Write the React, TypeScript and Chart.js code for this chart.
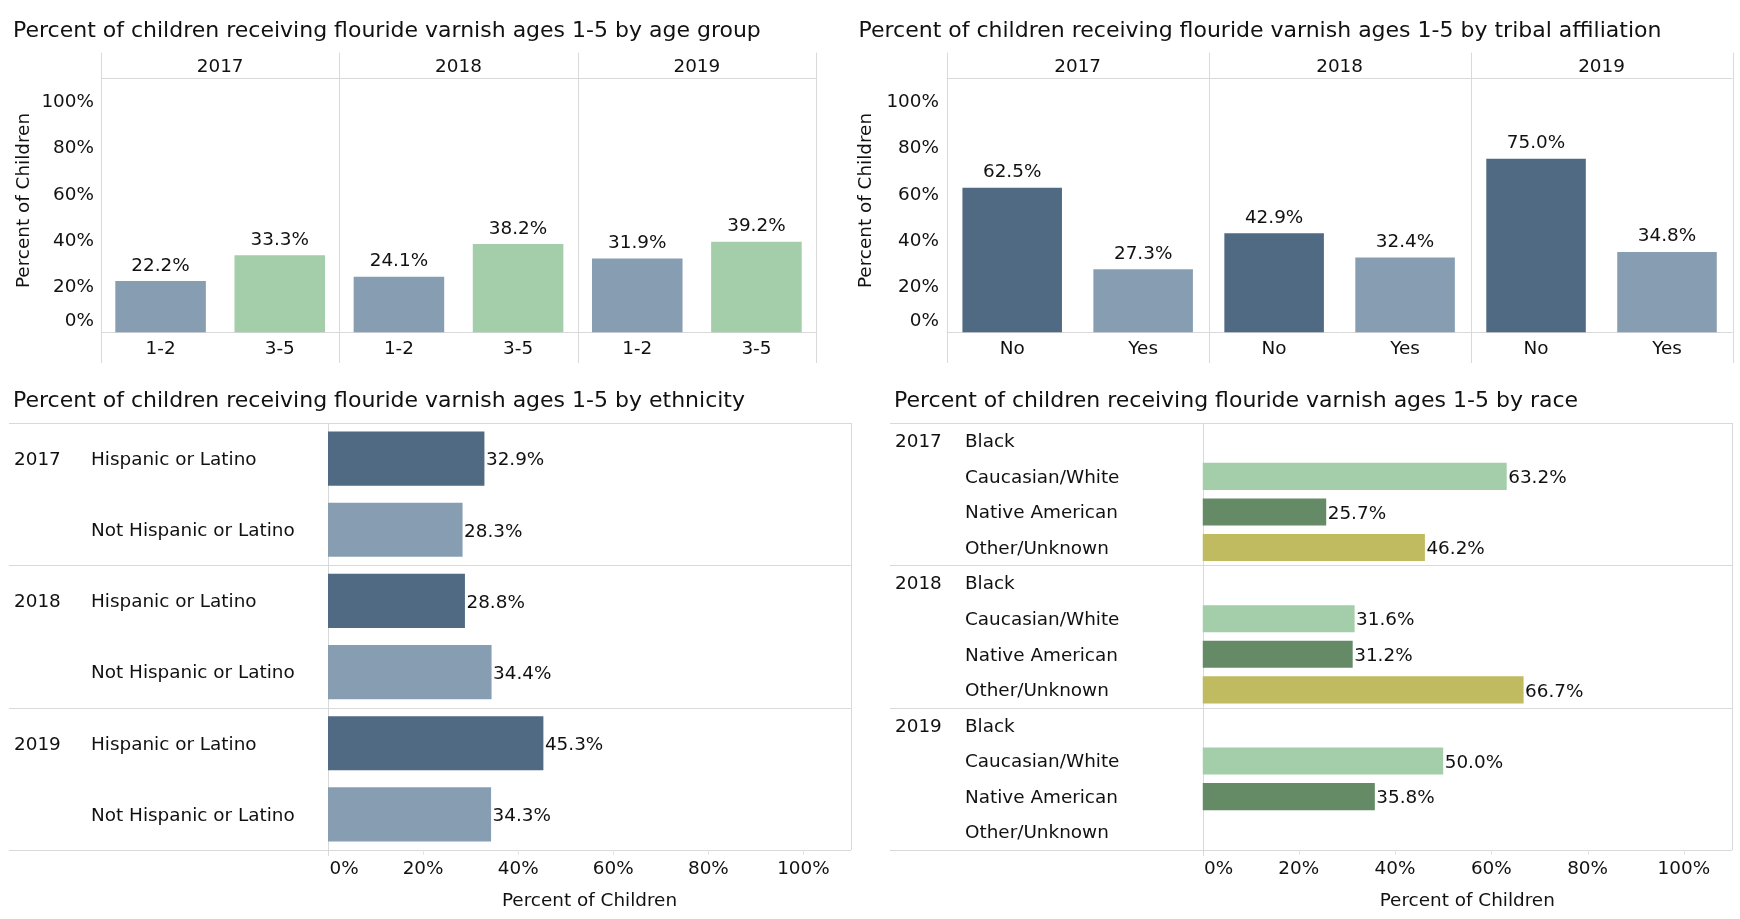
import React, { useEffect, useRef } from 'react';
import { Chart, registerables } from 'chart.js';

Chart.register(...registerables);

// ---------- data ----------
const YEARS = ['2017', '2018', '2019'];
const PCT_TICKS = [0, 20, 40, 60, 80, 100];
const AXIS_TITLE = 'Percent of Children';

const AGE_TITLE = 'Percent of children receiving flouride varnish ages 1-5 by age group';
const AGE_GROUPS = ['1-2', '3-5'];
const AGE_1_2 = [22.2, 24.1, 31.9];
const AGE_3_5 = [33.3, 38.2, 39.2];

const TRIBAL_TITLE = 'Percent of children receiving flouride varnish ages 1-5 by tribal affiliation';
const TRIBAL_GROUPS = ['No', 'Yes'];
const TRIBAL_NO = [62.5, 42.9, 75.0];
const TRIBAL_YES = [27.3, 32.4, 34.8];

const ETH_TITLE = 'Percent of children receiving flouride varnish ages 1-5 by ethnicity';
const ETH_GROUPS = ['Hispanic or Latino', 'Not Hispanic or Latino'];
const ETH_HISPANIC = [32.9, 28.8, 45.3];
const ETH_NOT_HISPANIC = [28.3, 34.4, 34.3];

const RACE_TITLE = 'Percent of children receiving flouride varnish ages 1-5 by race';
const RACE_GROUPS = ['Black', 'Caucasian/White', 'Native American', 'Other/Unknown'];
const RACE_BLACK: (number | null)[] = [null, null, null];
const RACE_WHITE: (number | null)[] = [63.2, 31.6, 50.0];
const RACE_NATIVE: (number | null)[] = [25.7, 31.2, 35.8];
const RACE_OTHER: (number | null)[] = [46.2, 66.7, null];

// ---------- styles ----------
const W = 1740;
const H = 919;
const FONT = '"DejaVu Sans", sans-serif';
const TXT = '#111111';
const GRID = '#d9d9d9';
const LABEL_SIZE = 18.4;
const TITLE_SIZE = 22;
const MID_SHIFT = 1.5;

const SLATE_DARK = '#4f6a82';
const SLATE_LIGHT = '#879eb2';
const GREEN_LIGHT = '#a3cea9';
const GREEN_DARK = '#648b66';
const OLIVE = '#c0bb60';

type Panel = {
  kind: 'v' | 'h';
  title: string;
  titleX: number;
  titleY: number;
  area: { l: number; t: number; r: number; b: number };
  groups: string[];
  series: (number | null)[][];
  colors: string[];
  headerTop?: number;
  lineBottom?: number;
  tickRight?: number;
  yTitleX?: number;
  yTitleY?: number;
  tableLeft?: number;
  yearX?: number;
  catX?: number;
};

const PANELS: Panel[] = [
  {
    kind: 'v', title: AGE_TITLE, titleX: 13, titleY: 30,
    area: { l: 101, t: 77.7, r: 816, b: 332.5 },
    groups: AGE_GROUPS, series: [AGE_1_2, AGE_3_5], colors: [SLATE_LIGHT, GREEN_LIGHT],
    headerTop: 52.7, lineBottom: 363, tickRight: 94, yTitleX: 24.5, yTitleY: 200.5,
  },
  {
    kind: 'v', title: TRIBAL_TITLE, titleX: 858.5, titleY: 30,
    area: { l: 946.7, t: 77.7, r: 1732.5, b: 332.5 },
    groups: TRIBAL_GROUPS, series: [TRIBAL_NO, TRIBAL_YES], colors: [SLATE_DARK, SLATE_LIGHT],
    headerTop: 52.7, lineBottom: 363, tickRight: 939, yTitleX: 866.7, yTitleY: 200.5,
  },
  {
    kind: 'h', title: ETH_TITLE, titleX: 13, titleY: 400,
    area: { l: 328, t: 423, r: 851, b: 850 },
    groups: ETH_GROUPS, series: [ETH_HISPANIC, ETH_NOT_HISPANIC], colors: [SLATE_DARK, SLATE_LIGHT],
    tableLeft: 9, yearX: 14, catX: 91,
  },
  {
    kind: 'h', title: RACE_TITLE, titleX: 894, titleY: 400,
    area: { l: 1202.5, t: 423, r: 1732, b: 850 },
    groups: RACE_GROUPS, series: [RACE_BLACK, RACE_WHITE, RACE_NATIVE, RACE_OTHER],
    colors: [SLATE_LIGHT, GREEN_LIGHT, GREEN_DARK, OLIVE],
    tableLeft: 890, yearX: 895, catX: 965,
  },
];

function buildRows(p: Panel) {
  const labels: string[] = [];
  const values: (number | null)[] = [];
  const colors: string[] = [];
  YEARS.forEach((yr, yi) => {
    p.groups.forEach((g, gi) => {
      labels.push(`${yr} ${g}`);
      values.push(p.series[gi][yi]);
      colors.push(p.colors[gi]);
    });
  });
  return { labels, values, colors };
}

function line(ctx: CanvasRenderingContext2D, x1: number, y1: number, x2: number, y2: number, color = GRID) {
  ctx.save();
  ctx.strokeStyle = color;
  ctx.lineWidth = 1;
  ctx.beginPath();
  ctx.moveTo(x1, y1);
  ctx.lineTo(x2, y2);
  ctx.stroke();
  ctx.restore();
}

function text(ctx: CanvasRenderingContext2D, s: string, x: number, y: number, align: CanvasTextAlign, size = LABEL_SIZE, baseline: CanvasTextBaseline = 'middle') {
  ctx.save();
  ctx.fillStyle = TXT;
  ctx.font = `${size}px ${FONT}`;
  ctx.textAlign = align;
  ctx.textBaseline = baseline;
  ctx.fillText(s, x, baseline === 'middle' ? y + MID_SHIFT : y);
  ctx.restore();
}

const fmt = (v: number) => `${v.toFixed(1)}%`;

function makePlugin(p: Panel) {
  const G = p.groups.length;
  return {
    id: 'tableauPanel',
    beforeDatasetsDraw(chart: any) {
      const ctx: CanvasRenderingContext2D = chart.ctx;
      const a = chart.chartArea;
      if (p.kind === 'v') {
        const n = chart.data.labels.length;
        const cw = (a.right - a.left) / n;
        for (let k = 0; k <= YEARS.length; k++) {
          const x = Math.round(a.left + k * G * cw) + 0.5;
          line(ctx, x, p.headerTop!, x, p.lineBottom!);
        }
        line(ctx, a.left, Math.round(a.top) + 0.5, a.right, Math.round(a.top) + 0.5);
        const y0 = Math.round(chart.scales.y.getPixelForValue(0)) + 0.5;
        line(ctx, a.left, y0, a.right, y0);
      } else {
        const n = chart.data.labels.length;
        const rh = (a.bottom - a.top) / n;
        for (let k = 0; k <= YEARS.length; k++) {
          const y = Math.round(a.top + k * G * rh) + 0.5;
          line(ctx, p.tableLeft!, y, a.right, y);
        }
        const xr = Math.round(a.right) + 0.5;
        line(ctx, xr, a.top, xr, a.bottom);
        const xs = chart.scales.x;
        PCT_TICKS.forEach((v) => {
          const x = Math.round(xs.getPixelForValue(v)) + 0.5;
          if (v === 0) line(ctx, x, a.top, x, a.bottom + 6);
          else line(ctx, x, a.bottom, x, a.bottom + 5, '#e6e6e6');
        });
      }
    },
    afterDatasetsDraw(chart: any) {
      const ctx: CanvasRenderingContext2D = chart.ctx;
      const a = chart.chartArea;
      const meta = chart.getDatasetMeta(0);
      const vals = chart.data.datasets[0].data;
      text(ctx, p.title, p.titleX, p.titleY, 'left', TITLE_SIZE);
      if (p.kind === 'v') {
        const xs = chart.scales.x;
        const ys = chart.scales.y;
        const n = chart.data.labels.length;
        const cw = (a.right - a.left) / n;
        YEARS.forEach((yr, k) => {
          const cx = a.left + (k * G + G / 2) * cw;
          text(ctx, yr, cx, (p.headerTop! + a.top) / 2 + 0.5, 'center');
        });
        PCT_TICKS.forEach((v) => {
          let y = ys.getPixelForValue(v);
          if (v === 0) y -= 12.5;
          text(ctx, `${v}%`, p.tickRight!, y, 'right');
        });
        ctx.save();
        ctx.translate(p.yTitleX!, p.yTitleY!);
        ctx.rotate(-Math.PI / 2);
        ctx.fillStyle = TXT;
        ctx.font = `${LABEL_SIZE}px ${FONT}`;
        ctx.textAlign = 'center';
        ctx.textBaseline = 'middle';
        ctx.fillText(AXIS_TITLE, 0, 0);
        ctx.restore();
        const y0 = ys.getPixelForValue(0);
        chart.data.labels.forEach((_: string, i: number) => {
          text(ctx, p.groups[i % G], xs.getPixelForValue(i), y0 + 15.5, 'center');
        });
        meta.data.forEach((el: any, i: number) => {
          const v = vals[i];
          if (v == null) return;
          text(ctx, fmt(v), el.x, el.y - 10.5, 'center', LABEL_SIZE, 'alphabetic');
        });
      } else {
        const xs = chart.scales.x;
        const ys = chart.scales.y;
        chart.data.labels.forEach((_: string, i: number) => {
          const y = ys.getPixelForValue(i);
          if (i % G === 0) text(ctx, YEARS[Math.floor(i / G)], p.yearX!, y, 'left');
          text(ctx, p.groups[i % G], p.catX!, y, 'left');
        });
        meta.data.forEach((el: any, i: number) => {
          const v = vals[i];
          if (v == null) return;
          text(ctx, fmt(v), el.x + 1.5, el.y + 0.5, 'left');
        });
        PCT_TICKS.forEach((v) => {
          const x = xs.getPixelForValue(v);
          if (v === 0) text(ctx, `${v}%`, x + 1.5, a.bottom + 18, 'left');
          else text(ctx, `${v}%`, x, a.bottom + 18, 'center');
        });
        text(ctx, AXIS_TITLE, (a.left + a.right) / 2, a.bottom + 50, 'center');
      }
    },
  };
}

function PanelChart({ panel }: { panel: Panel }) {
  const ref = useRef<HTMLCanvasElement | null>(null);
  useEffect(() => {
    if (!ref.current) return;
    const { labels, values, colors } = buildRows(panel);
    const horizontal = panel.kind === 'h';
    const catScale = { type: 'category', display: false, offset: true };
    const valScale = { type: 'linear', display: false, min: 0, max: 110 };
    const chart = new Chart(ref.current, {
      type: 'bar',
      data: {
        labels,
        datasets: [
          {
            data: values as any,
            backgroundColor: colors,
            borderWidth: 0,
            barPercentage: 0.76,
            categoryPercentage: 1,
          },
        ],
      },
      options: {
        indexAxis: horizontal ? 'y' : 'x',
        responsive: false,
        animation: false,
        devicePixelRatio: 1,
        layout: {
          padding: {
            left: panel.area.l,
            top: panel.area.t,
            right: W - panel.area.r,
            bottom: H - panel.area.b,
          },
        },
        plugins: {
          legend: { display: false },
          tooltip: { enabled: false },
          title: { display: false },
        },
        scales: horizontal
          ? ({ x: valScale, y: catScale } as any)
          : ({ x: catScale, y: valScale } as any),
      },
      plugins: [makePlugin(panel) as any],
    });
    return () => chart.destroy();
  }, [panel]);
  return (
    <canvas
      ref={ref}
      width={W}
      height={H}
      style={{ position: 'absolute', left: 0, top: 0, width: W, height: H }}
    />
  );
}

export default function App() {
  return (
    <div style={{ position: 'absolute', left: 0, top: 0, width: W, height: H, background: '#ffffff', overflow: 'hidden' }}>
      {PANELS.map((p, i) => (
        <PanelChart key={i} panel={p} />
      ))}
    </div>
  );
}
